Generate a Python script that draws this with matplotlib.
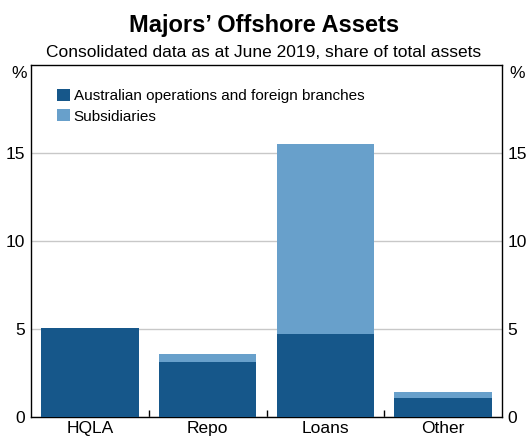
import matplotlib
matplotlib.use("Agg")
import matplotlib.pyplot as plt
import numpy as np

plt.rcParams['font.family'] = ['Liberation Sans', 'DejaVu Sans']

# Data (% of total assets)
categories = ["HQLA", "Repo", "Loans", "Other"]
aus_ops = [5.05, 3.1, 4.7, 1.1]
subsidiaries = [0.0, 0.5, 10.8, 0.3]
series_names = ["Australian operations and foreign branches", "Subsidiaries"]
yticks = [0, 5, 10, 15]

dark = "#16578A"
light = "#68A0CB"

fig = plt.figure(figsize=(5.31, 4.37), dpi=100)
ax = fig.add_axes([31 / 531, 1 - 417 / 437, 471 / 531, 352 / 437])

x = np.arange(len(categories))
ax.bar(x, aus_ops, width=0.83, color=dark, label=series_names[0], zorder=3)
ax.bar(x, subsidiaries, width=0.83, bottom=aus_ops, color=light,
       label=series_names[1], zorder=3)

ax.set_xlim(-0.5, len(categories) - 0.5)
ax.set_ylim(0, 20)
ax.set_yticks(yticks)
ax.set_xticks(x)
ax.set_xticklabels(categories, fontsize=12.5)
ax.set_xticks(np.arange(0.5, len(categories) - 1), minor=True)
ax.tick_params(axis='x', which='major', length=0, pad=3)
ax.tick_params(axis='x', which='minor', direction='in', length=5, width=1, color='black')
ax.tick_params(axis='y', length=0, labelsize=12.5, pad=4, labelright=True, right=False)
ax.yaxis.grid(True, color='#c8c8c8', linewidth=1, zorder=0)

for sp in ax.spines.values():
    sp.set_linewidth(1)
    sp.set_color('black')

ax.text(19 / 531, 1 - 73 / 437, "%", transform=fig.transFigure, fontsize=12.5,
        ha='center', va='center')
ax.text(517 / 531, 1 - 73 / 437, "%", transform=fig.transFigure, fontsize=12.5,
        ha='center', va='center')

ax.legend(loc='upper left', bbox_to_anchor=(0.042, 0.95), frameon=False, fontsize=11,
          handlelength=0.85, handleheight=0.85, handletextpad=0.25, labelspacing=0.4,
          borderaxespad=0)

fig.text(264 / 531, 1 - 32 / 437, "Majors\u2019 Offshore Assets", fontsize=17,
         fontweight='bold', ha='center', va='baseline')
fig.text(264 / 531, 1 - 57 / 437, "Consolidated data as at June 2019, share of total assets",
         fontsize=12.5, ha='center', va='baseline')

fig.savefig("out.png", dpi=100)
